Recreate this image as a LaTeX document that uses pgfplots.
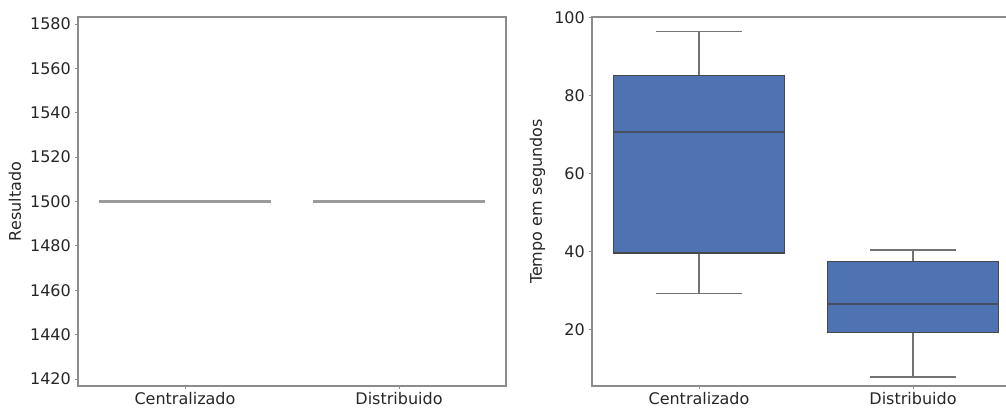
\documentclass[border=0pt]{standalone}
\usepackage{fontspec}
\setmainfont{DejaVu Sans}
\usepackage{pgfplots}
\pgfplotsset{compat=1.18}
\definecolor{boxblue}{RGB}{79,114,179}
\definecolor{edgecol}{RGB}{72,72,72}
\definecolor{medcol}{RGB}{70,78,95}
\definecolor{whiskcol}{RGB}{115,115,115}
\definecolor{lgray}{RGB}{155,155,155}
\definecolor{spine}{RGB}{140,140,140}
\definecolor{txt}{RGB}{38,38,38}
\pgfplotsset{
  myax/.style={
    anchor=south west, scale only axis,
    width=321pt, height=276.75pt,
    xmin=-0.5, xmax=1.5, xtick={0,1},
    xticklabels={Centralizado,Distribuido},
    tick align=outside, tick pos=left,
    major tick length=2pt,
    every tick/.style={draw=spine, line width=0.6pt},
    axis line style={draw=spine, line width=0.8pt},
    font=\fontsize{12}{14}\selectfont,
    tick label style={font=\fontsize{12}{14}\selectfont, text=txt},
    xticklabel style={inner sep=2.5pt},
    yticklabel style={inner sep=3.2pt},
    label style={font=\fontsize{12}{14}\selectfont, text=txt},
    /pgf/number format/assume math mode=true,
    /pgf/number format/1000 sep={},
  }
}
\begin{document}
\begin{tikzpicture}
\useasboundingbox (0pt,0pt) rectangle (754.5pt,306pt);
\clip (0pt,0pt) rectangle (754.5pt,306pt);
\begin{axis}[myax, at={(58.5pt,16.5pt)},
  ymin=1416.8, ymax=1583.2,
  ytick={1420,1440,1460,1480,1500,1520,1540,1560,1580},
  ylabel={Resultado},
]
\addplot[draw=lgray, line width=2pt] coordinates {(-0.4,1500) (0.4,1500)};
\addplot[draw=lgray, line width=2pt] coordinates {(0.6,1500) (1.4,1500)};
\end{axis}
\begin{axis}[myax, at={(444pt,16.5pt)},
  ymin=5.6, ymax=100.2,
  ytick={20,40,60,80,100},
  ylabel={Tempo em segundos},
]
% Centralizado
\addplot[draw=whiskcol, line width=1pt] coordinates {(0,29.4) (0,39.7)};
\addplot[draw=whiskcol, line width=1pt] coordinates {(0,85.1) (0,96.5)};
\addplot[draw=whiskcol, line width=1pt] coordinates {(-0.2,29.4) (0.2,29.4)};
\addplot[draw=whiskcol, line width=1pt] coordinates {(-0.2,96.5) (0.2,96.5)};
\addplot[fill=boxblue, draw=edgecol, line width=0.8pt] coordinates {(-0.4,39.7) (0.4,39.7) (0.4,85.1) (-0.4,85.1)} -- cycle;
\addplot[draw=medcol, line width=1.5pt] coordinates {(-0.4,70.8) (0.4,70.8)};
% Distribuido
\addplot[draw=whiskcol, line width=1pt] coordinates {(1,7.9) (1,19.3)};
\addplot[draw=whiskcol, line width=1pt] coordinates {(1,37.5) (1,40.5)};
\addplot[draw=whiskcol, line width=1pt] coordinates {(0.8,7.9) (1.2,7.9)};
\addplot[draw=whiskcol, line width=1pt] coordinates {(0.8,40.5) (1.2,40.5)};
\addplot[fill=boxblue, draw=edgecol, line width=0.8pt] coordinates {(0.6,19.3) (1.4,19.3) (1.4,37.5) (0.6,37.5)} -- cycle;
\addplot[draw=medcol, line width=1.5pt] coordinates {(0.6,26.7) (1.4,26.7)};
\end{axis}
\end{tikzpicture}
\end{document}
